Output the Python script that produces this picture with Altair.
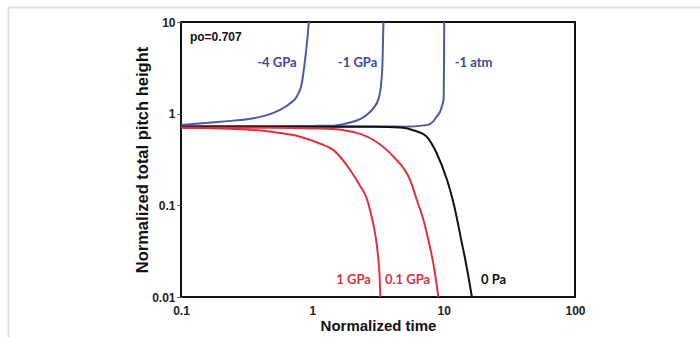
import altair as alt
import pandas as pd

# ---- data ----
m4gpa_x = [0.1, 0.2, 0.355, 0.476, 0.567, 0.676, 0.76, 0.832, 0.88, 0.92, 0.94]
m4gpa_y = [0.75, 0.818, 0.89, 0.99, 1.1, 1.29, 1.53, 2.15, 3.86, 6.9, 10]

m1gpa_x = [0.1, 0.5, 1.0, 1.45, 1.94, 2.31, 2.59, 2.92, 3.19, 3.35, 3.42, 3.48]
m1gpa_y = [0.73, 0.73, 0.735, 0.74, 0.8, 0.87, 0.97, 1.15, 1.45, 2.2, 3.5, 10]

m1atm_x = [0.1, 1.0, 4.0, 4.93, 7.43, 8.3, 8.85, 9.4, 9.67, 10.0, 10.05, 10.1]
m1atm_y = [0.73, 0.73, 0.725, 0.72, 0.75, 0.82, 0.93, 1.05, 1.19, 1.45, 3.0, 10]

zero_x = [0.1, 1.0, 3.0, 4.93, 5.85, 7.43, 8.85, 10.6, 11.3, 12.0, 12.8, 13.6, 14.5, 15.4, 16.4]
zero_y = [0.72, 0.72, 0.72, 0.70, 0.66, 0.561, 0.37, 0.19, 0.14, 0.1, 0.065, 0.042, 0.027, 0.017, 0.01]

p1gpa_x = [0.1, 0.2, 0.35, 0.55, 0.806, 1.15, 1.45, 1.94, 2.3, 2.59, 2.8, 3.0, 3.15, 3.25, 3.3]
p1gpa_y = [0.70, 0.69, 0.665, 0.62, 0.561, 0.47, 0.40, 0.243, 0.165, 0.12, 0.08, 0.05, 0.03, 0.017, 0.01]

p01gpa_x = [0.1, 0.5, 1.0, 1.45, 1.94, 2.4, 2.92, 4.14, 5.55, 6.24, 7.0, 7.7, 8.4, 9.12]
p01gpa_y = [0.70, 0.70, 0.69, 0.68, 0.64, 0.59, 0.516, 0.34, 0.189, 0.115, 0.07, 0.04, 0.022, 0.01]

series_names = ["-4 GPa", "-1 GPa", "-1 atm", "0 Pa", "1 GPa", "0.1 GPa"]
series_colors = ["#4a5aab", "#4a5aab", "#4a5aab", "#111111", "#e3303b", "#e3303b"]
label_colors = ["#3a4a9c", "#3a4a9c", "#3a4a9c", "#111111", "#e0303a", "#e0303a", "#111111"]

label_texts = ["-4 GPa", "-1 GPa", "-1 atm", "0 Pa", "1 GPa", "0.1 GPa", "po=0.707"]
label_x = [0.538, 2.21, 16.9, 24.0, 2.06, 5.31, 0.117]
label_y = [3.57, 3.57, 3.57, 0.0154, 0.0154, 0.0154, 6.86]

x_ticks = [0.1, 1, 10, 100]
y_ticks = [0.01, 0.1, 1, 10]

# ---- build table ----
rows = []
for name, xs, ys in [
    ("-4 GPa", m4gpa_x, m4gpa_y),
    ("-1 GPa", m1gpa_x, m1gpa_y),
    ("-1 atm", m1atm_x, m1atm_y),
    ("0 Pa", zero_x, zero_y),
    ("1 GPa", p1gpa_x, p1gpa_y),
    ("0.1 GPa", p01gpa_x, p01gpa_y),
]:
    for i, (a, b) in enumerate(zip(xs, ys)):
        rows.append({"series": name, "t": a, "h": b, "i": i})
df = pd.DataFrame(rows)

lab = pd.DataFrame({"text": label_texts, "t": label_x, "h": label_y,
                    "key": label_texts})
lab_c = lab[lab["key"] != "po=0.707"]
lab_l = lab[lab["key"] == "po=0.707"]

xscale = alt.Scale(type="log", domain=[0.1, 100], nice=False)
yscale = alt.Scale(type="log", domain=[0.01, 10], nice=False)

xaxis = alt.Axis(values=x_ticks, format="~g", title="Normalized time",
                 ticks=False, labelPadding=8, domain=False, grid=False,
                 labelFont="Liberation Sans", labelFontWeight="bold", labelFontSize=12,
                 labelColor="#222", titleFont="Liberation Sans", titleFontWeight="bold",
                 titleFontSize=15, titleColor="#111", titlePadding=2, labelFlush=False)
yaxis = alt.Axis(values=y_ticks, format="~g", title="Normalized total pitch height",
                 tickSize=4, tickColor="#555", labelPadding=2, domain=False, grid=False,
                 labelFont="Liberation Sans", labelFontWeight="bold", labelFontSize=12,
                 labelColor="#222", titleFont="Liberation Sans", titleFontWeight="bold",
                 titleFontSize=16.5, titleColor="#111", titlePadding=1, labelFlush=False)

lines = alt.Chart(df).mark_line(strokeWidth=2, clip=True, interpolate="monotone").encode(
    x=alt.X("t:Q", scale=xscale, axis=xaxis),
    y=alt.Y("h:Q", scale=yscale, axis=yaxis),
    color=alt.Color("series:N", scale=alt.Scale(domain=series_names, range=series_colors), legend=None),
    detail="series:N",
    order="i:Q",
)

text_color = alt.Color("key:N", scale=alt.Scale(domain=label_texts, range=label_colors), legend=None)

labels = alt.Chart(lab_c).mark_text(font="Lato", fontWeight="bold", fontSize=13,
                                    align="center", baseline="middle").encode(
    x=alt.X("t:Q", scale=xscale), y=alt.Y("h:Q", scale=yscale), text="text:N", color=text_color)

po = alt.Chart(lab_l).mark_text(font="Liberation Sans", fontWeight="bold", fontSize=12,
                                align="left", baseline="middle").encode(
    x=alt.X("t:Q", scale=xscale), y=alt.Y("h:Q", scale=yscale), text="text:N", color=text_color)

# page frame (decoration)
frame_top = alt.Chart(pd.DataFrame({"a": [0]})).mark_rule(color="#dedede", strokeWidth=2).encode(
    x=alt.value(-172.5), x2=alt.value(519), y=alt.value(-14.5))
frame_left = alt.Chart(pd.DataFrame({"a": [0]})).mark_rule(color="#dedede", strokeWidth=2).encode(
    x=alt.value(-172.5), y=alt.value(-14.5), y2=alt.value(315))

chart = alt.layer(frame_top, frame_left, lines, labels, po).properties(
    width=394, height=275,
    autosize=alt.AutoSizeParams(type="none"),
    padding={"left": 181, "top": 22, "right": 125, "bottom": 40},
    background="white",
).configure_view(stroke="#111", strokeWidth=2).resolve_scale(color="independent")

chart.save("out.html", embed_options={"renderer": "svg", "actions": False})
